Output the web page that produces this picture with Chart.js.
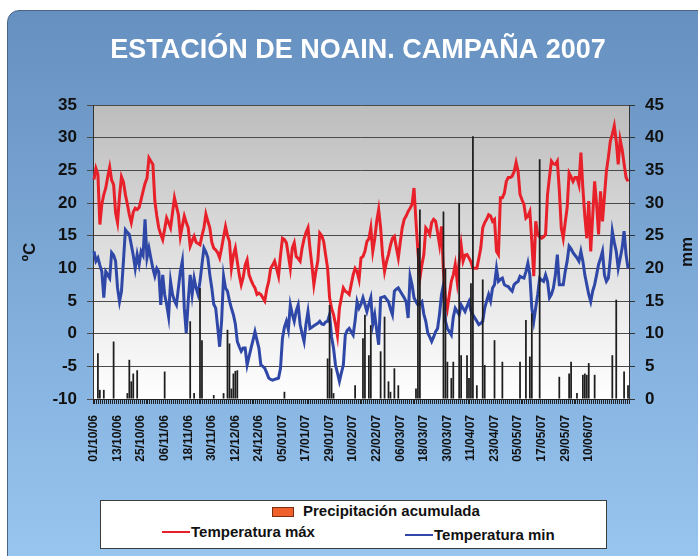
<!DOCTYPE html>
<html>
<head>
<meta charset="utf-8">
<script src="https://cdn.jsdelivr.net/npm/chart.js@4.4.0/dist/chart.umd.min.js"></script>
<style>
  html, body { margin: 0; padding: 0; background: #fff; }
  body { width: 698px; height: 556px; position: relative; overflow: hidden; font-family: "Liberation Sans", Arial, sans-serif; }
  #panel {
    position: absolute; left: 7px; top: 10px; width: 720px; height: 570px;
    border: 1px solid #4a6585; border-radius: 12px;
    background: linear-gradient(to bottom, #6690bf 0%, #7aa6d4 40%, #8fbde8 80%, #98c7f0 100%);
  }
  #chart { position: absolute; left: 0; top: 0; }
  #legend {
    position: absolute; left: 100px; top: 500px; width: 505px; height: 47px;
    background: #fff; border: 1px solid #3c3c3c;
  }
  .item { position: absolute; font-weight: bold; font-size: 15px; line-height: 18px; color: #111; white-space: nowrap; }
  .swatch { position: absolute; }
</style>
</head>
<body>
<div id="panel"></div>
<canvas id="chart" width="698" height="556"></canvas>
<div id="legend"></div>
<script>
// daily series, 01/10/2006 .. 30/06/2007
const startDate = Date.UTC(2006, 9, 1);
const dayCount = 273;

const tickLabels = ['01/10/06', '13/10/06', '25/10/06', '06/11/06', '18/11/06', '30/11/06',
  '12/12/06', '24/12/06', '05/01/07', '17/01/07', '29/01/07', '10/02/07', '22/02/07',
  '06/03/07', '18/03/07', '30/03/07', '11/04/07', '23/04/07', '05/05/07', '17/05/07',
  '29/05/07', '10/06/07'];

// Temperatura máx (ºC)
const tempMax = [
  23.6, 25.3, 24.4, 16.7, 19.8, 21.3, 22.3, 24, 25.5, 23.5,
  22.8, 18.5, 17, 21, 24, 23.2, 21.3, 19.8, 18.2, 17,
  18.6, 19.2, 19, 19.3, 20.5, 21.8, 23, 23.8, 26.9, 26.4,
  25.9, 20.3, 18, 16.2, 15.2, 14.4, 16, 17.7, 17, 16.2,
  18.5, 20.8, 19.5, 18.2, 14.9, 16.5, 18, 17, 16.2, 13.4,
  14.2, 14.9, 14, 13.8, 13.6, 15, 16.2, 18.3, 17.2, 16.2,
  14, 13.1, 12.8, 12.4, 11.6, 13.1, 14.8, 16.4, 15, 14.1,
  10, 12, 13.1, 11, 9, 7.5, 8.6, 10.5, 11.3, 9,
  8.2, 7.5, 7, 6, 6.2, 6, 5.5, 5, 6.8, 8,
  10, 10.5, 11.1, 10, 8.8, 12, 14.6, 14.4, 13.9, 12,
  10, 13.1, 13.9, 11.8, 11.5, 11.1, 13.1, 14.5, 15.5, 16.2,
  13.1, 10.5, 7.5, 9.5, 11.1, 15.4, 15, 14.1, 12, 10,
  5.5, 3.9, 2.9, 1.5, -0.3, 3.9, 5.5, 7, 6.5, 6.3,
  6, 7.5, 9, 10, 9.5, 8.3, 11.6, 11.8, 12.6, 14.1,
  14.5, 16.2, 12.6, 14.5, 17.2, 19, 16.2, 12, 9.5, 11,
  12.1, 13.5, 14.6, 14.9, 13.2, 11.6, 14, 16.2, 17.5, 18,
  18.7, 19.2, 19.8, 22.3, 17.2, 12.6, 8.5, 10.5, 12.1, 16.2,
  15.8, 15.2, 17, 17.5, 17.2, 15.5, 13.6, 16.4, 9.5, 5.5,
  3.9, 6, 8, 9, 10.6, 8, 11, 13.6, 11.1, 12,
  12.1, 11.6, 11, 10, 10, 10, 11.5, 13.1, 16.2, 17,
  17.5, 18.2, 18, 17.2, 17.5, 12.6, 12.1, 20.8, 20.8, 21.5,
  23.3, 23.9, 23.9, 24.1, 24.8, 26.2, 24.9, 21.3, 20.5, 19.8,
  17.7, 18, 18.7, 14.1, 8.8, 17.2, 15.2, 14.8, 14.6, 14.8,
  15.2, 21.3, 24, 26.4, 26, 25.9, 26.4, 22, 16.2, 14.6,
  17, 19.3, 24.6, 24, 23.3, 23.9, 23.9, 22.8, 27.7, 22.3,
  18, 14.6, 20.3, 12.6, 18, 23.3, 19.8, 15.2, 21.8, 17.2,
  21, 24.9, 27, 29.5, 30.5, 31.8, 29.5, 25.9, 29.7, 28.2,
  26, 23.9, 23.3
];

// Temperatura min (ºC)
const tempMin = [
  12.6, 11.1, 11.6, 10.5, 9.5, 5.5, 9.5, 9, 8.5, 12.4,
  12, 11.1, 7, 4.9, 6.5, 11.1, 15.9, 15.5, 15.2, 13.6,
  12, 10, 12.1, 10.6, 12.6, 12, 17.5, 11.6, 13.1, 11.5,
  10, 8.8, 10, 9.5, 4.4, 9, 6, 4.5, 2.6, 8,
  6, 5, 4.4, 7, 9.5, 11.1, 3.9, 0.1, 5, 9,
  6, 8.5, 7, 6, 8, 10.6, 13.1, 12.5, 11.6, 9,
  7, 4.5, 3.9, 1, -2, 1.9, 8.8, 7, 6.5, 5,
  3.9, 2.9, 1.5, -1.2, -2, -2.7, -2.2, -2.2, -4.8, -3.5,
  -2.2, -1, 0.3, -1, -2.2, -4.8, -5, -5.3, -6, -6.8,
  -7, -7.1, -7, -6.9, -6.8, -5.3, -0.7, 1, 1.9, 0.6,
  4.4, 3, 1.9, 3.5, 4.4, 1.4, 0, -1.2, 1.5, 3.4,
  0.8, 1, 1.2, 1.4, 1.6, 1.9, 1.5, 1.4, 1.8, 1.9,
  2.9, -0.5, -2.2, -4.8, -6, -7.3, -6, -4.8, -0.2, 0.5,
  0.8, 0.3, -0.2, 2, 4.9, 3.9, 4.5, 5.5, 4.5, 3.4,
  4.5, 5.5, 1.4, 2.9, 0.5, -1.7, 5.5, 5.6, 5.7, 5.3,
  4.9, 3.8, 2.9, 6.5, 6.8, 7, 6.5, 6, 5.5, 4.9,
  2.4, 8.8, 7.5, 5.5, 4.9, 4.4, 4.6, 4.9, 3, 1.9,
  0.1, -0.5, -1.2, -0.5, 0.3, 0.8, 3, 6, 7.5, 1.9,
  0.8, 0.3, -0.2, 2.5, 3.9, 3.4, 2.9, 4.4, 3.9, 3.4,
  4.2, 4.9, 3.5, 2.9, 2.4, 1.9, 1.4, 1.6, 1.9, 3.9,
  5, 6, 5, 7, 7.5, 10, 8, 8.3, 8.5, 7.5,
  7.3, 7.2, 6.8, 6.5, 7.5, 7.8, 8, 8.8, 8.6, 8.5,
  9.5, 10.8, 9, 3.9, 1.9, 4, 6, 8.5, 8.2, 8,
  9, 8, 5.5, 6, 7, 9, 12.1, 7.5, 7.5, 7.5,
  9.5, 11.1, 13.4, 13, 12.4, 12, 11.6, 11.1, 12.6, 11.1,
  9, 7.5, 6, 4.9, 6.5, 7.5, 9, 10.6, 11.5, 12.6,
  9, 8, 8.5, 11.6, 15.7, 14, 12.6, 10, 11.5, 13.1,
  15.7, 12.1, 10
];

// Precipitación (mm) - only the rainy days, every other day is 0
const rainDates = [
  '03/10/06', '04/10/06', '06/10/06', '11/10/06', '18/10/06', '19/10/06', '20/10/06', '21/10/06', '23/10/06',
  '06/11/06', '19/11/06', '21/11/06', '24/11/06', '25/11/06',
  '01/12/06', '06/12/06', '08/12/06', '09/12/06', '10/12/06', '11/12/06', '12/12/06', '13/12/06',
  '06/01/07', '28/01/07', '29/01/07', '30/01/07', '31/01/07',
  '11/02/07', '15/02/07', '16/02/07', '18/02/07', '19/02/07', '24/02/07', '26/02/07', '28/02/07',
  '01/03/07', '03/03/07', '05/03/07', '14/03/07', '15/03/07', '16/03/07', '28/03/07', '29/03/07', '30/03/07',
  '01/04/07', '02/04/07', '05/04/07', '06/04/07', '09/04/07', '10/04/07', '11/04/07', '12/04/07', '14/04/07',
  '17/04/07', '18/04/07', '23/04/07', '27/04/07',
  '06/05/07', '09/05/07', '11/05/07', '12/05/07', '16/05/07', '26/05/07', '31/05/07',
  '01/06/07', '04/06/07', '07/06/07', '08/06/07', '09/06/07', '10/06/07', '13/06/07', '22/06/07', '24/06/07',
  '28/06/07', '30/06/07'
];
const rainMm = [
  7.0, 1.4, 1.4, 8.8, 0.9, 6.0, 2.7, 3.9, 4.4,
  4.2, 11.9, 0.9, 17.0, 9.0,
  0.6, 0.9, 10.6, 8.5, 1.6, 3.9, 4.3, 4.4,
  1.1, 6.2, 14.4, 4.7, 0.9,
  2.1, 9.3, 12.9, 6.7, 11.3, 7.3, 12.6, 2.7,
  1.1, 4.7, 2.1, 1.6, 23.1, 29.0, 28.7, 20.0, 5.7,
  3.2, 5.7, 30.0, 6.7, 6.7, 3.2, 17.7, 40.2, 2.1,
  18.3, 5.2, 9.0, 5.7,
  5.7, 12.1, 6.5, 13.1, 36.7, 3.4, 3.9,
  5.7, 0.9, 3.7, 3.9, 3.7, 5.5, 3.7, 6.7, 15.2,
  4.2, 2.1
];

function fmt(ms) {
  const d = new Date(ms);
  const p = n => String(n).padStart(2, '0');
  return p(d.getUTCDate()) + '/' + p(d.getUTCMonth() + 1) + '/' + String(d.getUTCFullYear()).slice(2);
}

const days = [];
for (let i = 0; i < dayCount; i++) days.push(fmt(startDate + i * 86400000));

const rain = days.map(d => {
  const k = rainDates.indexOf(d);
  return k >= 0 ? rainMm[k] : 0;
});

const FONT = '"Liberation Sans", Arial, sans-serif';

// grey-to-white fill behind the plot
const plotBg = {
  id: 'plotBg',
  beforeDraw(chart) {
    const { ctx, chartArea: a } = chart;
    const g = ctx.createLinearGradient(0, a.top, 0, a.bottom);
    g.addColorStop(0, '#bcbcbc');
    g.addColorStop(0.55, '#e2e2e2');
    g.addColorStop(1, '#ffffff');
    ctx.save();
    ctx.fillStyle = g;
    ctx.fillRect(a.left, a.top, a.right - a.left, a.bottom - a.top);
    ctx.restore();
  }
};

// both axis titles read bottom to top
const axisTitles = {
  id: 'axisTitles',
  afterDraw(chart) {
    const { ctx, chartArea: a } = chart;
    const mid = (a.top + a.bottom) / 2;
    ctx.save();
    ctx.font = 'bold 17px ' + FONT;
    ctx.fillStyle = '#111';
    ctx.textAlign = 'center';
    ctx.textBaseline = 'middle';
    [['ºC', 30], ['mm', 687]].forEach(([t, x]) => {
      ctx.save();
      ctx.translate(x, mid);
      ctx.rotate(-Math.PI / 2);
      ctx.fillText(t, 0, 0);
      ctx.restore();
    });
    ctx.restore();
  }
};

const ctx = document.getElementById('chart').getContext('2d');
new Chart(ctx, {
  type: 'bar',
  data: {
    labels: days,
    datasets: [
      {
        type: 'bar',
        label: 'Precipitación acumulada',
        data: rain,
        yAxisID: 'y1',
        backgroundColor: '#1e1e1e',
        barPercentage: 0.9,
        categoryPercentage: 1,
        order: 0
      },
      {
        type: 'line',
        label: 'Temperatura máx',
        data: tempMax,
        yAxisID: 'y',
        borderColor: '#e8202a',
        borderWidth: 3,
        pointRadius: 0,
        tension: 0,
        order: 1
      },
      {
        type: 'line',
        label: 'Temperatura min',
        data: tempMin,
        yAxisID: 'y',
        borderColor: '#2f48a8',
        borderWidth: 3,
        pointRadius: 0,
        tension: 0,
        order: 2
      }
    ]
  },
  options: {
    responsive: false,
    animation: false,
    layout: { padding: { left: 18 } },
    plugins: {
      legend: { display: false },
      tooltip: { enabled: false },
      title: {
        display: true,
        text: 'ESTACIÓN DE NOAIN. CAMPAÑA 2007',
        color: '#ffffff',
        font: { family: FONT, size: 27, weight: 'bold' },
        padding: { top: 34, bottom: 38.6 }
      }
    },
    scales: {
      x: {
        offset: true,
        grid: { drawOnChartArea: false, drawTicks: true, tickLength: 5, color: '#222', offset: true },
        border: { color: '#222' },
        ticks: {
          autoSkip: false,
          minRotation: 90,
          maxRotation: 90,
          padding: 11,
          color: '#111',
          font: { family: FONT, size: 12, weight: 'bold' },
          callback(v, i) {
            const l = days[i];
            return tickLabels.includes(l) ? l : '';
          }
        },
        afterFit(s) { s.height = 157; }
      },
      y: {
        position: 'left',
        min: -10,
        max: 35,
        ticks: { stepSize: 5, padding: 10, color: '#111', font: { family: FONT, size: 17, weight: 'bold' } },
        grid: { color: '#4a4a4a', tickLength: 6 },
        border: { color: '#333' },
        afterFit(s) { s.width = 75; }
      },
      y1: {
        position: 'right',
        min: 0,
        max: 45,
        ticks: { stepSize: 5, padding: 10, color: '#111', font: { family: FONT, size: 17, weight: 'bold' } },
        grid: { drawOnChartArea: false, color: '#333', tickLength: 6 },
        border: { color: '#333' },
        afterFit(s) { s.width = 69; }
      }
    }
  },
  plugins: [plotBg, axisTitles]
});

// legend box like the original: rain on the first row, both temperatures below
const legend = document.getElementById('legend');
const entries = [
  { text: 'Precipitación acumulada', kind: 'box', color: '#f0602a', x: 272, y: 511 },
  { text: 'Temperatura máx', kind: 'line', color: '#e8202a', x: 162, y: 532 },
  { text: 'Temperatura min', kind: 'line', color: '#2f48a8', x: 405, y: 535 }
];
entries.forEach(e => {
  const sw = document.createElement('div');
  sw.className = 'swatch';
  if (e.kind === 'box') {
    sw.style.cssText = `left:${e.x - 101}px;top:${e.y - 501 - 4}px;width:20px;height:8px;background:${e.color};border:1px solid #7a3010;`;
  } else {
    sw.style.cssText = `left:${e.x - 101}px;top:${e.y - 501 - 1}px;width:28px;height:2px;background:${e.color};`;
  }
  legend.appendChild(sw);
  const t = document.createElement('div');
  t.className = 'item';
  t.textContent = e.text;
  t.style.left = (e.x - 101 + (e.kind === 'box' ? 31 : 29)) + 'px';
  t.style.top = (e.y - 501 - 9) + 'px';
  legend.appendChild(t);
});
</script>
</body>
</html>
